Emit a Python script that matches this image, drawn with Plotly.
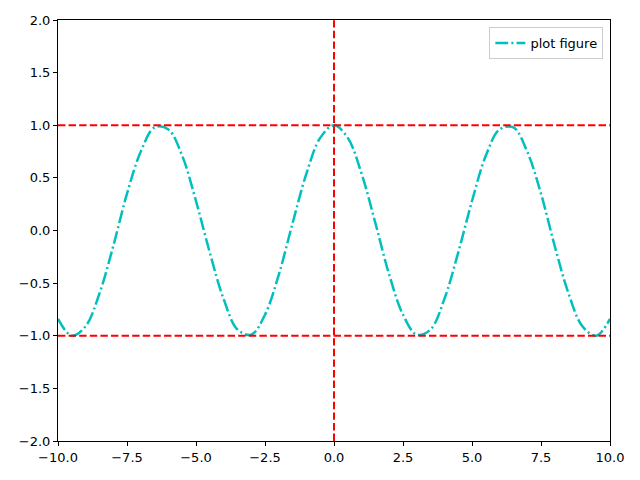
import plotly.graph_objects as go

x_vals = [-10, -9.5, -9, -8.5, -8, -7.5, -7, -6.5, -6, -5.5, -5, -4.5, -4, -3.5, -3, -2.5, -2, -1.5, -1, -0.5,
          0, 0.5, 1, 1.5, 2, 2.5, 3, 3.5, 4, 4.5, 5, 5.5, 6, 6.5, 7, 7.5, 8, 8.5, 9, 9.5, 10]
y_vals = [-0.84, -1.00, -0.91, -0.60, -0.15, 0.35, 0.75, 0.98, 0.96, 0.71, 0.28, -0.21, -0.65, -0.94, -0.99, -0.80, -0.42, 0.07, 0.54, 0.88,
          1.00, 0.88, 0.54, 0.07, -0.42, -0.80, -0.99, -0.94, -0.65, -0.21, 0.28, 0.71, 0.96, 0.98, 0.75, 0.35, -0.15, -0.60, -0.91, -1.00, -0.84]
h_lines = [1, -1]
v_lines = [0]
x_ticks = [-10, -7.5, -5, -2.5, 0, 2.5, 5, 7.5, 10]
y_ticks = [-2, -1.5, -1, -0.5, 0, 0.5, 1, 1.5, 2]

fig = go.Figure()
fig.add_trace(go.Scatter(x=x_vals, y=y_vals, mode="lines", name="plot figure",
                         line=dict(color="#00bfbf", width=2.5, dash="12.8px,3.2px,2px,3.2px", shape="spline")))

for h in h_lines:
    fig.add_shape(type="line", xref="x", yref="y", x0=-10, x1=10, y0=h, y1=h,
                  line=dict(color="#ff0000", width=2, dash="7.4px,3.2px"))
for v in v_lines:
    fig.add_shape(type="line", xref="x", yref="y", x0=v, x1=v, y0=-2, y1=2,
                  line=dict(color="#ff0000", width=2, dash="7.4px,3.2px"))

axis_common = dict(showgrid=False, zeroline=False, showline=True, linecolor="black", linewidth=1,
                   mirror=True, ticks="outside", ticklen=4, tickwidth=1, tickcolor="black",
                   tickfont=dict(family="DejaVu Sans", size=13, color="black"), tickformat=".1f",
                   automargin=False)
fig.update_xaxes(range=[-10, 10], tickvals=x_ticks, **axis_common)
fig.update_yaxes(range=[-2, 2], tickvals=y_ticks, **axis_common)

fig.update_layout(
    width=640, height=480,
    margin=dict(l=50, r=38, t=12, b=47),
    plot_bgcolor="white", paper_bgcolor="white",
    showlegend=True,
    legend=dict(x=0.988, y=0.983, xanchor="right", yanchor="top",
                bordercolor="#cccccc", borderwidth=1, bgcolor="white",
                font=dict(family="DejaVu Sans", size=13, color="black")),
)

fig.write_html("out.html")
